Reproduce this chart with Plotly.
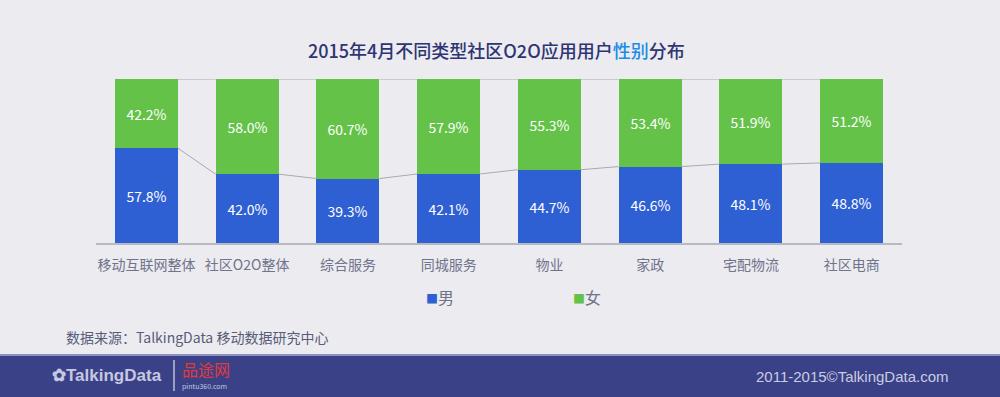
import plotly.graph_objects as go

categories = ["移动互联网整体", "社区O2O整体", "综合服务", "同城服务", "物业", "家政", "宅配物流", "社区电商"]
male = [57.8, 42.0, 39.3, 42.1, 44.7, 46.6, 48.1, 48.8]
female = [42.2, 58.0, 60.7, 57.9, 55.3, 53.4, 51.9, 51.2]
series_names = ["男", "女"]

BLUE = "#2F60D3"
GREEN = "#64C249"
BG = "#EBEBF0"
FONT = "Noto Sans CJK SC, Noto Sans, sans-serif"

W, H = 1000, 397
L, R, T, B = 96, 902, 79, 243  # plot area in px
BW = 0.626


def px(x):
    return (x - L) / (R - L)


def py(y):
    return (B - y) / (B - T)


xs = list(range(len(categories)))
fig = go.Figure()
fig.add_trace(go.Bar(x=xs, y=male, name=series_names[0], marker=dict(color=BLUE, line_width=0),
                     width=BW, text=[f"{v:.1f}%" for v in male], textposition="inside",
                     insidetextanchor="middle", textfont=dict(color="white", size=14, family=FONT),
                     showlegend=False, hoverinfo="skip"))
fig.add_trace(go.Bar(x=xs, y=female, name=series_names[1], marker=dict(color=GREEN, line_width=0),
                     width=BW, text=[f"{v:.1f}%" for v in female], textposition="inside",
                     insidetextanchor="middle", textfont=dict(color="white", size=14, family=FONT),
                     showlegend=False, hoverinfo="skip"))

# series connector lines
for i in range(len(categories) - 1):
    for vals in (male, [m + f for m, f in zip(male, female)]):
        fig.add_trace(go.Scatter(x=[xs[i] + BW / 2, xs[i + 1] - BW / 2], y=[vals[i], vals[i + 1]],
                                 mode="lines", line=dict(color="#A9A9B2", width=1),
                                 showlegend=False, hoverinfo="skip"))

shapes = [
    dict(type="rect", xref="paper", yref="paper", x0=px(-5), x1=px(1005), y0=py(356), y1=py(400),
         fillcolor="#3A4187", line_width=0, layer="above"),
    dict(type="line", xref="paper", yref="paper", x0=px(-5), x1=px(1005), y0=py(355), y1=py(355),
         line=dict(color="#8C90BC", width=2), layer="above"),
    dict(type="line", xref="paper", yref="paper", x0=px(174), x1=px(174), y0=py(360), y1=py(391),
         line=dict(color="#FFFFFF", width=1), layer="above"),
]

annotations = [
    dict(text="2015年4月不同类型社区O2O应用用户<span style='color:#1E8BE6'>性别</span>分布",
         x=px(496), y=py(50), xref="paper", yref="paper", showarrow=False,
         font=dict(size=18, color="#2E3572", family=FONT, weight=500), xanchor="center", yanchor="middle"),
    dict(text=f"<span style='color:{BLUE};font-size:12px'>■</span>{series_names[0]}", x=px(424), y=py(297),
         xref="paper", yref="paper", showarrow=False, xanchor="left", yanchor="middle",
         font=dict(size=16, color="#70738A", family=FONT)),
    dict(text=f"<span style='color:{GREEN};font-size:12px'>■</span>{series_names[1]}", x=px(571), y=py(297),
         xref="paper", yref="paper", showarrow=False, xanchor="left", yanchor="middle",
         font=dict(size=16, color="#70738A", family=FONT)),
    dict(text="数据来源：TalkingData 移动数据研究中心", x=px(64), y=py(337),
         xref="paper", yref="paper", showarrow=False, xanchor="left", yanchor="middle",
         font=dict(size=14, color="#585C78", family=FONT)),
    dict(text="2011-2015©TalkingData.com", x=px(951), y=py(376),
         xref="paper", yref="paper", showarrow=False, xanchor="right", yanchor="middle",
         font=dict(size=15, color="#C9CCE2", family="Liberation Sans Narrow, Liberation Sans, sans-serif")),
    dict(text="<b>✿TalkingData</b>", x=px(50), y=py(375),
         xref="paper", yref="paper", showarrow=False, xanchor="left", yanchor="middle",
         font=dict(size=17, color="#C5C8E0", family="Liberation Sans Narrow, Liberation Sans, sans-serif")),
    dict(text="品途网", x=px(180), y=py(369),
         xref="paper", yref="paper", showarrow=False, xanchor="left", yanchor="middle",
         font=dict(size=16, color="#E2393A", family=FONT)),
    dict(text="pintu360.com", x=px(180), y=py(386),
         xref="paper", yref="paper", showarrow=False, xanchor="left", yanchor="middle",
         font=dict(size=7, color="#C5C8E0", family=FONT)),
]

fig.update_layout(
    width=W, height=H, barmode="stack", bargap=0,
    paper_bgcolor=BG, plot_bgcolor=BG,
    margin=dict(l=L, r=W - R, t=T, b=H - B, pad=0),
    xaxis=dict(range=[-0.5, len(categories) - 0.5], tickmode="array", tickvals=xs, ticktext=categories,
               showgrid=False, zeroline=False, showline=True, linecolor="#B8B8C0", linewidth=2,
               ticks="", tickfont=dict(size=14, color="#70738A", family=FONT), ticklabelstandoff=8),
    yaxis=dict(range=[0, 100], visible=False, showgrid=False),
    shapes=shapes, annotations=annotations, showlegend=False,
)

fig.write_html("out.html", config={"displayModeBar": False},
               post_script="document.body.style.margin='0';document.body.style.background='" + BG + "';")
